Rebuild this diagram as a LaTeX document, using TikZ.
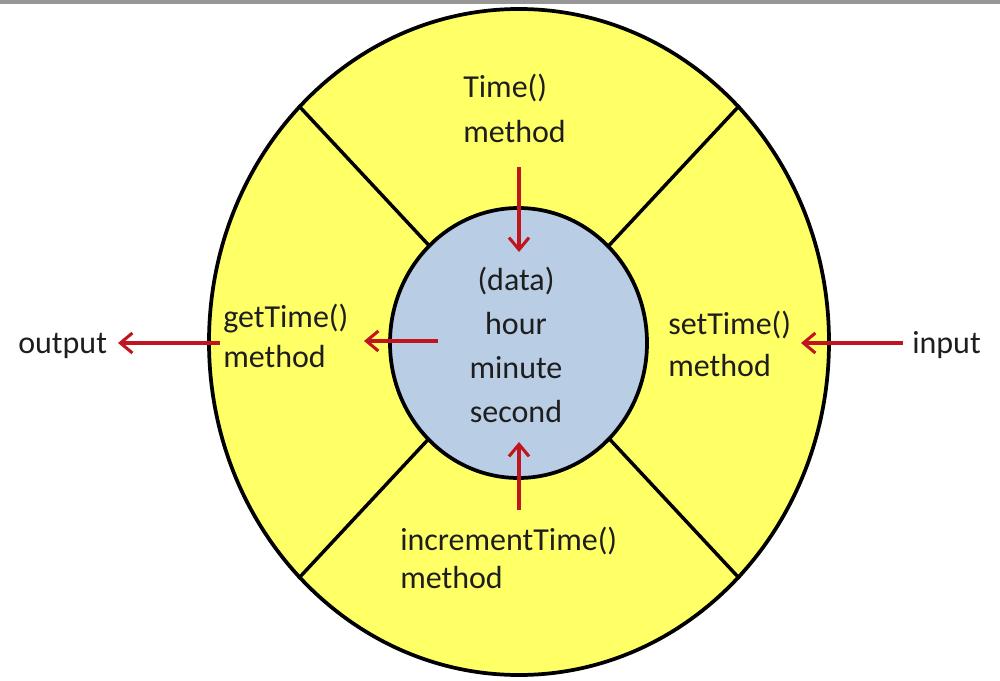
\documentclass[tikz,border=0pt]{standalone}
\usepackage{fontspec}
\setmainfont{Carlito}
\usetikzlibrary{shapes.geometric,arrows.meta}
\definecolor{ringyellow}{RGB}{255,255,102}
\definecolor{coreblue}{RGB}{185,205,228}
\definecolor{arrred}{RGB}{192,20,30}
\definecolor{txt}{RGB}{30,30,30}
\definecolor{topbar}{RGB}{150,150,150}
\tikzset{
  lbl/.style={inner sep=0pt, text=txt, align=left},
  arr/.style={draw=arrred, line width=2.5pt, -{Straight Barb[length=9pt,width=15pt,line width=2.3pt]}},
  divider/.style={draw=black, line width=2.6pt},
}
\begin{document}
\begin{tikzpicture}[x=0.75pt,y=-0.75pt]
\useasboundingbox (0,0) rectangle (1000,681);
\fill[white] (0,0) rectangle (1000,681);
\fill[topbar] (0,0) rectangle (1000,4);
% outer ring
\node[ellipse, draw=black, fill=ringyellow, line width=2.8pt, inner sep=0pt,
      minimum width=465pt, minimum height=499.5pt] (outer) at (519,342) {};
% dividers
\draw[divider] (outer.133) -- (outer.center);
\draw[divider] (outer.47) -- (outer.center);
\draw[divider] (outer.227) -- (outer.center);
\draw[divider] (outer.313) -- (outer.center);
% core
\node[ellipse, draw=black, fill=coreblue, line width=2.8pt, inner sep=0pt,
      minimum width=192.75pt, minimum height=202.5pt] (core) at (518.5,343) {};
% texts (base anchor = baseline of the last line)
\node[lbl, anchor=base west, font=\fontsize{24pt}{33.75pt}\selectfont] (timem) at (463,143) {Time()\\method};
\node[lbl, anchor=base west, font=\fontsize{24pt}{30pt}\selectfont] (getm) at (223,367) {getTime()\\method};
\node[lbl, anchor=base west, font=\fontsize{24pt}{31pt}\selectfont] (setm) at (668,376) {setTime()\\method};
\node[lbl, anchor=base west, font=\fontsize{24pt}{28.5pt}\selectfont] (incm) at (400,588) {incrementTime()\\method};
\node[lbl, align=center, anchor=base, font=\fontsize{24pt}{33pt}\selectfont] (data) at (516,422) {(data)\\hour\\minute\\second};
\node[lbl, anchor=base west, font=\fontsize{24pt}{30pt}\selectfont] (out) at (18,353) {output};
\node[lbl, anchor=base west, font=\fontsize{24pt}{30pt}\selectfont] (in) at (912,353) {input};
% arrow ends
\coordinate (toptail) at (519,167);
\coordinate (toptip) at (519,252);
\coordinate (bottail) at (519,510);
\coordinate (bottip) at (519,442);
\coordinate (lefttail) at (438,341);
\coordinate (lefttip) at (364,341);
\coordinate (outtail) at (220,343);
\coordinate (outtip) at (118,343);
\coordinate (intail) at (903,343);
\coordinate (intip) at (801,343);
\draw[arr] (toptail) -- (toptip);
\draw[arr] (bottail) -- (bottip);
\draw[arr] (lefttail) -- (lefttip);
\draw[arr] (outtail) -- (outtip);
\draw[arr] (intail) -- (intip);
\end{tikzpicture}
\end{document}
